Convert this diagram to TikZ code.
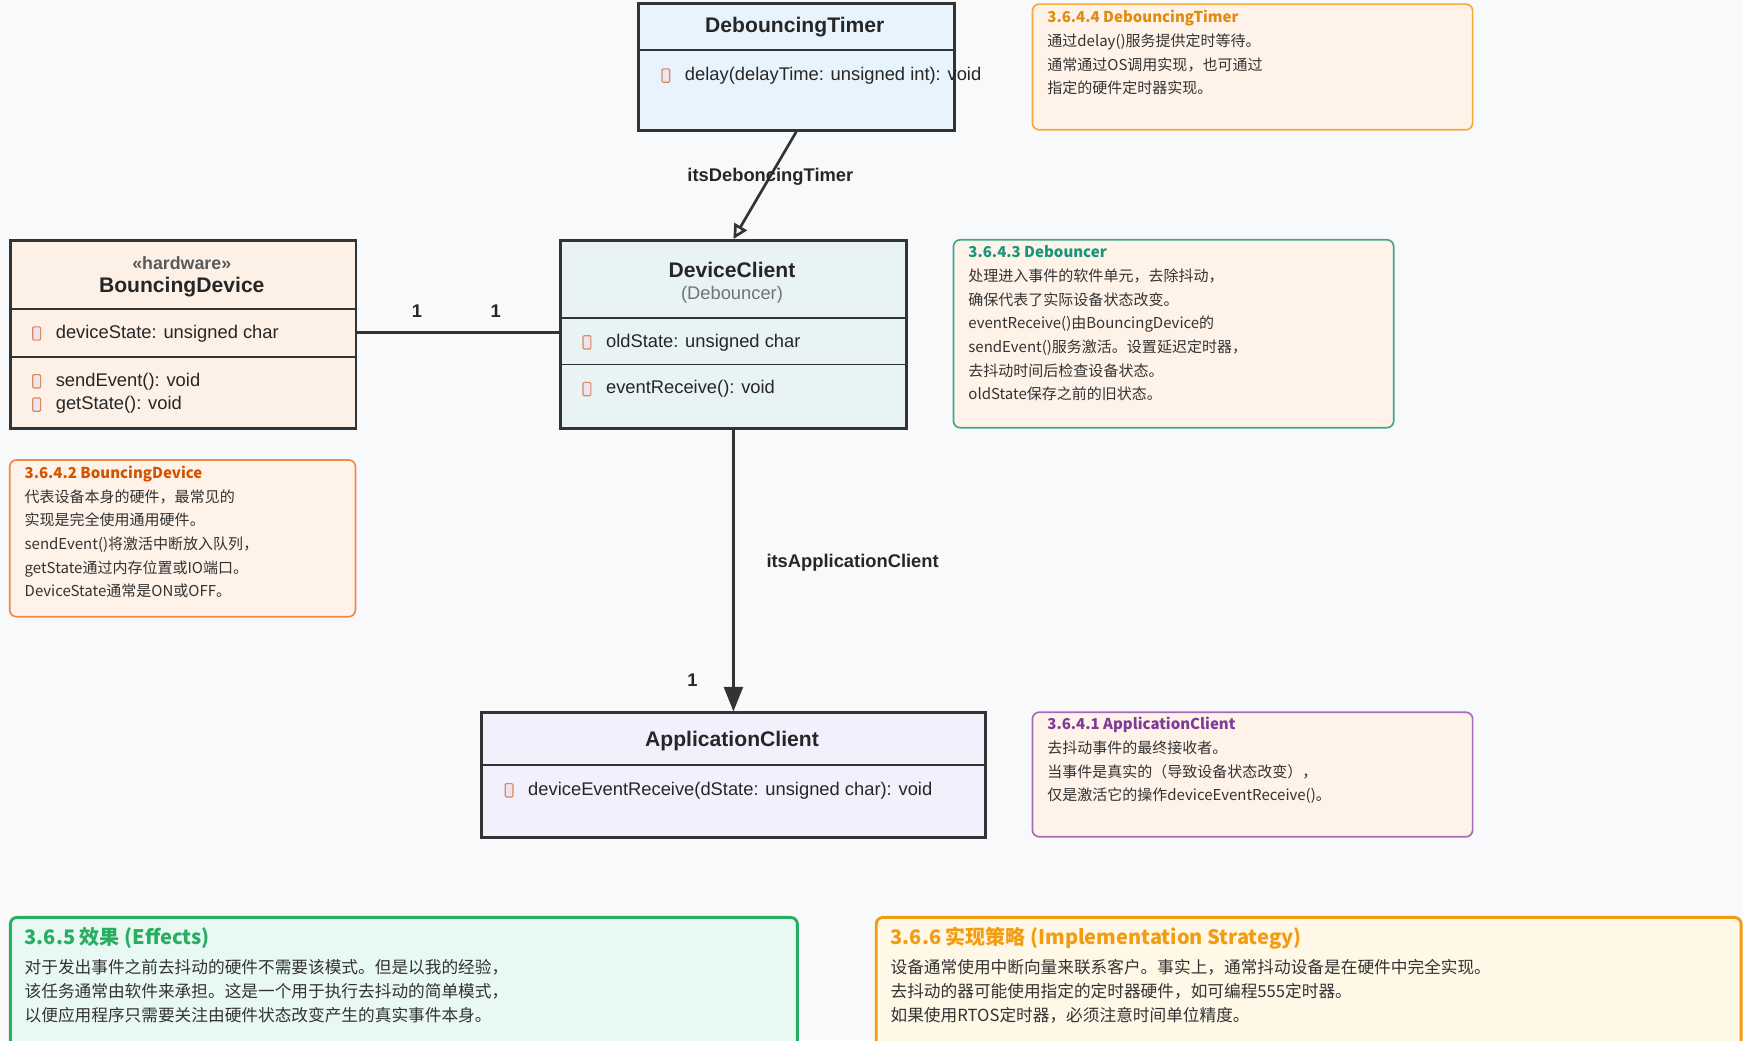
\documentclass[tikz,border=0pt]{standalone}
\usepackage{fontspec}
\setmainfont{Liberation Sans}
\newfontfamily\cjk{Noto Sans CJK SC}
\usetikzlibrary{arrows.meta}
\definecolor{bg}{HTML}{F8F9FB}
\definecolor{ln}{HTML}{333333}
\definecolor{icb}{HTML}{D9895A}
\definecolor{icf}{HTML}{ECE4F2}
\definecolor{fdt}{HTML}{E8F4FD}
\definecolor{fbd}{HTML}{FDF0E6}
\definecolor{fdc}{HTML}{E8F4F4}
\definecolor{fac}{HTML}{F3F0FD}
\definecolor{nfill}{HTML}{FFF2E8}
\definecolor{c4b}{HTML}{F5A93A}\definecolor{c4t}{HTML}{E08C10}
\definecolor{c3b}{HTML}{3AA98E}\definecolor{c3t}{HTML}{16967A}
\definecolor{c2b}{HTML}{F08A4B}\definecolor{c2t}{HTML}{D35400}
\definecolor{c1b}{HTML}{A569BD}\definecolor{c1t}{HTML}{7D3C98}
\definecolor{c5b}{HTML}{27AE60}\definecolor{c5f}{HTML}{E8F8F2}
\definecolor{c6b}{HTML}{F39C12}\definecolor{c6f}{HTML}{FFF8E6}
\tikzset{
  cls/.style={draw=ln,line width=2.6pt,anchor=north west,inner sep=0pt},
  div/.style={draw=ln,line width=1.3pt},
  ttl/.style={font=\fontsize{19}{22}\selectfont\bfseries,text=black!85},
  mem/.style={anchor=west,font=\fontsize{16.5}{20}\selectfont,text=black!85,inner sep=0pt},
  ico/.style={draw=icb,fill=icf,line width=1pt,minimum width=7pt,minimum height=12pt,inner sep=0pt,rounded corners=1pt},
  lbl/.style={font=\fontsize{16.5}{20}\selectfont\bfseries,text=black!85},
  note/.style={rounded corners=6pt,line width=1.5pt,anchor=north west,inner sep=0pt},
  ntxt/.style={anchor=north west,align=left,inner sep=0pt,font=\cjk\fontsize{13.5}{21.3}\selectfont,text=black!80},
  btxt/.style={anchor=north west,align=left,inner sep=0pt,font=\cjk\fontsize{15}{21.3}\selectfont,text=black!80},
}
\newcommand{\ic}[2]{\node[ico] at (#1,#2) {};}
\begin{document}
\begin{tikzpicture}[x=1pt,y=-1pt]
\useasboundingbox (0,0) rectangle (1568,936);
\clip (0,0) rectangle (1568,936);
\fill[bg] (0,0) rectangle (1568,936);

% DebouncingTimer
\node[cls,fill=fdt,minimum width=284pt,minimum height=114pt] (dt) at (573,2) {};
\draw[div] (573,45) -- (857,45);
\node[ttl] (dtt) at (715,24) {DebouncingTimer};
\ic{599}{68}
\node[mem] (dtm) at (616,68) {delay(delayTime: unsigned int): void};

% BouncingDevice
\node[cls,fill=fbd,minimum width=311pt,minimum height=169pt] (bd) at (8,215) {};
\node[font=\fontsize{16}{19}\selectfont\bfseries,text=black!65] (bds) at (163.5,237) {<<hardware>>};
\node[ttl] (bdt) at (163.5,258) {BouncingDevice};
\draw[div] (8,278) -- (319,278);
\draw[div] (8,321) -- (319,321);
\ic{33}{300}\node[mem] (bd1) at (50,300) {deviceState: unsigned char};
\ic{33}{343}\node[mem] (bd2) at (50,343) {sendEvent(): void};
\ic{33}{364}\node[mem] (bd3) at (50,364) {getState(): void};

% DeviceClient
\node[cls,fill=fdc,minimum width=311pt,minimum height=169pt] (dc) at (503,215) {};
\node[ttl] (dct) at (658.5,243) {DeviceClient};
\node[font=\fontsize{16.5}{20}\selectfont,text=black!55] (dcs) at (658.5,265) {(Debouncer)};
\draw[div] (503,286) -- (814,286);
\draw[div] (503,328) -- (814,328);
\ic{528}{308}\node[mem] (dc1) at (545,308) {oldState: unsigned char};
\ic{528}{350}\node[mem] (dc2) at (545,350) {eventReceive(): void};

% ApplicationClient
\node[cls,fill=fac,minimum width=453pt,minimum height=112pt] (ac) at (432,640) {};
\node[ttl] (act) at (658.5,667) {ApplicationClient};
\draw[div] (432,688) -- (885,688);
\ic{458}{711}\node[mem] (ac1) at (475,711) {deviceEventReceive(dState: unsigned char): void};

% connectors
\draw[ln,line width=2.6pt] (bd.east |- 0,299) -- (dc.west |- 0,299);
\node[lbl] (m1) at (375,280) {1};
\node[lbl] (m2) at (446,280) {1};
\draw[ln,line width=2.4pt,-{Triangle[open,length=13pt,width=13pt,fill=bg]}] (dt.south) -- (dc.north);
\node[lbl] (l1) at (693,159) {itsDeboncingTimer};
\draw[ln,line width=2.4pt,-{Triangle[length=22pt,width=17pt]}] (dc.south) -- (ac.north);
\node[lbl] (l2) at (767,506) {itsApplicationClient};
\node[lbl] (m3) at (623,612) {1};

% notes
\node[note,draw=c4b,fill=nfill,minimum width=396pt,minimum height=113pt] (n4) at (928,3) {};
\node[ntxt] (n4t) at (942,9) {{\bfseries\color{c4t}3.6.4.4 DebouncingTimer}\\通过delay()服务提供定时等待。\\通常通过OS调用实现，也可通过\\指定的硬件定时器实现。};

\node[note,draw=c3b,fill=nfill,minimum width=396pt,minimum height=169pt] (n3) at (857,215) {};
\node[ntxt] (n3t) at (871,221) {{\bfseries\color{c3t}3.6.4.3 Debouncer}\\处理进入事件的软件单元，去除抖动，\\确保代表了实际设备状态改变。\\eventReceive()由BouncingDevice的\\sendEvent()服务激活。设置延迟定时器，\\去抖动时间后检查设备状态。\\oldState保存之前的旧状态。};

\node[note,draw=c2b,fill=nfill,minimum width=311pt,minimum height=141pt] (n2) at (8,413) {};
\node[ntxt] (n2t) at (22,419) {{\bfseries\color{c2t}3.6.4.2 BouncingDevice}\\代表设备本身的硬件，最常见的\\实现是完全使用通用硬件。\\sendEvent()将激活中断放入队列，\\getState通过内存位置或IO端口。\\DeviceState通常是ON或OFF。};

\node[note,draw=c1b,fill=nfill,minimum width=396pt,minimum height=112pt] (n1) at (928,640) {};
\node[ntxt] (n1t) at (942,645) {{\bfseries\color{c1t}3.6.4.1 ApplicationClient}\\去抖动事件的最终接收者。\\当事件是真实的（导致设备状态改变），\\仅是激活它的操作deviceEventReceive()。};

\node[note,draw=c5b,line width=2.6pt,fill=c5f,minimum width=708pt,minimum height=130pt] (n5) at (8,824) {};
\node[btxt,font=\cjk\fontsize{18}{22}\selectfont\bfseries,text=c5b] (n5h) at (22,834) {3.6.5 效果 (Effects)};
\node[btxt] (n5t) at (22,863) {对于发出事件之前去抖动的硬件不需要该模式。但是以我的经验，\\该任务通常由软件来承担。这是一个用于执行去抖动的简单模式，\\以便应用程序只需要关注由硬件状态改变产生的真实事件本身。};

\node[note,draw=c6b,line width=2.6pt,fill=c6f,minimum width=778pt,minimum height=130pt] (n6) at (787,824) {};
\node[btxt,font=\cjk\fontsize{18}{22}\selectfont\bfseries,text=c6b] (n6h) at (801,834) {3.6.6 实现策略 (Implementation Strategy)};
\node[btxt] (n6t) at (801,863) {设备通常使用中断向量来联系客户。事实上，通常抖动设备是在硬件中完全实现。\\去抖动的器可能使用指定的定时器硬件，如可编程555定时器。\\如果使用RTOS定时器，必须注意时间单位精度。};
\end{tikzpicture}
\end{document}
